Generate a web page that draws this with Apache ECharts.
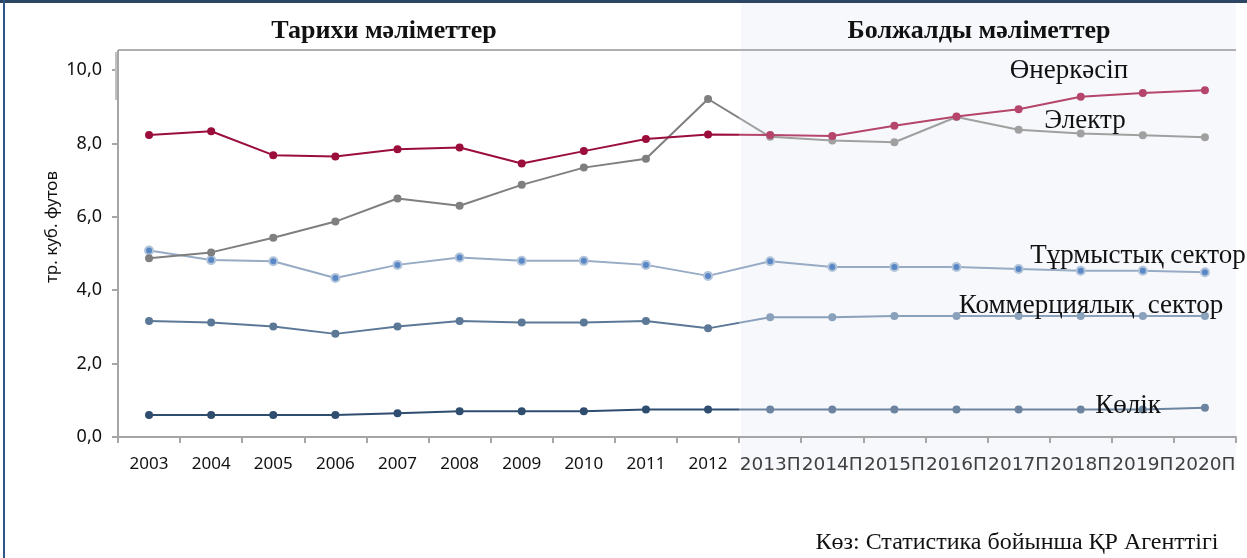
<!DOCTYPE html>
<html>
<head>
<meta charset="utf-8">
<script src="https://cdn.jsdelivr.net/npm/echarts@6/dist/echarts.min.js"></script>
<style>
html,body{margin:0;padding:0;background:#fff;}
#chart{width:1247px;height:558px;}
</style>
</head>
<body>
<div id="chart"></div>
<script>
var categories = ['2003','2004','2005','2006','2007','2008','2009','2010','2011','2012','2013П','2014П','2015П','2016П','2017П','2018П','2019П','2020П'];
var industry    = [8.23, 8.33, 7.68, 7.64, 7.84, 7.89, 7.45, 7.79, 8.12, 8.24, 8.23, 8.20, 8.48, 8.73, 8.93, 9.27, 9.37, 9.45];
var electricity = [4.87, 5.03, 5.43, 5.87, 6.50, 6.30, 6.87, 7.34, 7.58, 9.21, 8.18, 8.08, 8.03, 8.72, 8.37, 8.27, 8.22, 8.17];
var residential = [5.08, 4.82, 4.79, 4.33, 4.69, 4.89, 4.80, 4.80, 4.69, 4.39, 4.79, 4.63, 4.63, 4.63, 4.58, 4.53, 4.53, 4.49];
var commercial  = [3.16, 3.12, 3.01, 2.81, 3.01, 3.16, 3.12, 3.12, 3.16, 2.96, 3.26, 3.26, 3.30, 3.30, 3.30, 3.30, 3.30, 3.30];
var transport   = [0.60, 0.60, 0.60, 0.60, 0.65, 0.70, 0.70, 0.70, 0.75, 0.75, 0.75, 0.75, 0.75, 0.75, 0.75, 0.75, 0.75, 0.80];
var yTicks = [0, 2, 4, 6, 8, 10];
var headerHist = 'Тарихи мәліметтер';
var headerFore = 'Болжалды мәліметтер';
var seriesNames = ['Өнеркәсіп', 'Электр', 'Тұрмыстық сектор', 'Коммерциялық  сектор', 'Көлік'];
var axisName = 'тр. куб. футов';
var sourceText = 'Көз: Статистика бойынша ҚР Агенттігі';

var histColors = ['#9b0d3a', '#7f7f7f', '#97abc4', '#5b7896', '#2f4d6f'];
var foreColors = ['#b5456b', '#a0a0a0', '#a6b8ce', '#8aa1bb', '#6c84a0'];
var allData = [industry, electricity, residential, commercial, transport];
var histCount = 10;

var chart = echarts.init(document.getElementById('chart'));

var split = (histCount - 0.5) / (categories.length - 1);

var series = allData.map(function (d, i) {
  var grad = new echarts.graphic.LinearGradient(0, 0, 1, 0, [
    { offset: 0, color: histColors[i] },
    { offset: split, color: histColors[i] },
    { offset: split, color: foreColors[i] },
    { offset: 1, color: foreColors[i] }
  ]);
  var s = {
    name: seriesNames[i],
    type: 'line',
    data: d,
    symbol: 'circle',
    symbolSize: 8,
    showAllSymbol: true,
    lineStyle: { width: 2, color: grad },
    itemStyle: {
      color: function (p) { return p.dataIndex < histCount ? histColors[i] : foreColors[i]; }
    },
    z: 7 - i
  };
  if (i === 2) {
    s.itemStyle = { color: '#5a87c5', borderColor: '#b2c4da', borderWidth: 2 };
    s.lineStyle = { width: 2, color: '#97abc4' };
  }
  return s;
});

var serif = '"Liberation Serif", "Times New Roman", serif';
var sans = '"Noto Sans", "Open Sans", sans-serif';

chart.setOption({
  animation: false,
  backgroundColor: '#ffffff',
  grid: { left: 118, right: 11, top: 70, bottom: 121, containLabel: false },
  xAxis: {
    type: 'category',
    data: categories,
    boundaryGap: true,
    axisLine: { lineStyle: { color: '#a6a6a6', width: 2 } },
    axisTick: { show: true, interval: 0, length: 6, lineStyle: { color: '#a6a6a6', width: 2 } },
    axisLabel: {
      interval: 0,
      margin: 19,
      formatter: function (v) {
        return v.indexOf('П') >= 0 ? '{f|' + v + '}' : '{h|' + v + '}';
      },
      rich: {
        h: { fontFamily: sans, fontSize: 17, color: '#111111' },
        f: { fontFamily: '"DejaVu Sans", sans-serif', fontSize: 18.5, color: '#404040' }
      }
    },
    splitLine: { show: false }
  },
  yAxis: {
    type: 'value',
    min: yTicks[0],
    max: yTicks[yTicks.length - 1],
    interval: 2,
    axisLine: { show: true, lineStyle: { color: '#a6a6a6', width: 2 } },
    axisTick: { show: true, length: 6, lineStyle: { color: '#a6a6a6', width: 2 } },
    axisLabel: {
      margin: 16,
      fontFamily: sans,
      fontSize: 18,
      color: '#111111',
      formatter: function (v) { return v.toFixed(1).replace('.', ','); }
    },
    splitLine: { show: false }
  },
  series: series,
  graphic: [
    { type: 'rect', z: -10, silent: true, shape: { x: 741, y: 3, width: 495, height: 467 }, style: { fill: '#f7f8fb' } },
    { type: 'rect', z: 10, silent: true, shape: { x: 0, y: 0, width: 1247, height: 3 }, style: { fill: '#2b4563' } },
    { type: 'rect', z: 10, silent: true, shape: { x: 3, y: 0, width: 2, height: 558 }, style: { fill: '#2f5585' } },
    { type: 'line', z: 10, silent: true, shape: { x1: 118, y1: 50, x2: 1236, y2: 50 }, style: { stroke: '#b0b0b0', lineWidth: 2 } },
    { type: 'line', z: 10, silent: true, shape: { x1: 118, y1: 50, x2: 118, y2: 71 }, style: { stroke: '#a6a6a6', lineWidth: 2 } },
    { type: 'rect', z: 10, silent: true, shape: { x: 115, y: 52, width: 2, height: 48 }, style: { fill: '#c0c0c0' } },
    { type: 'text', z: 10, style: { x: 384, y: 31, text: headerHist, textAlign: 'center', textVerticalAlign: 'middle', font: 'bold 26px ' + serif, fill: '#111111' } },
    { type: 'text', z: 10, style: { x: 979, y: 31, text: headerFore, textAlign: 'center', textVerticalAlign: 'middle', font: 'bold 26px ' + serif, fill: '#111111' } },
    { type: 'text', z: 10, style: { x: 1069, y: 71, text: seriesNames[0], textAlign: 'center', textVerticalAlign: 'middle', font: '27px ' + serif, fill: '#111111' } },
    { type: 'text', z: 10, style: { x: 1085, y: 121, text: seriesNames[1], textAlign: 'center', textVerticalAlign: 'middle', font: '27px ' + serif, fill: '#111111' } },
    { type: 'text', z: 10, style: { x: 1138, y: 256, text: seriesNames[2], textAlign: 'center', textVerticalAlign: 'middle', font: '27px ' + serif, fill: '#111111' } },
    { type: 'text', z: 10, style: { x: 1091, y: 306, text: seriesNames[3], textAlign: 'center', textVerticalAlign: 'middle', font: '27px ' + serif, fill: '#111111' } },
    { type: 'text', z: 10, style: { x: 1128, y: 406, text: seriesNames[4], textAlign: 'center', textVerticalAlign: 'middle', font: '27px ' + serif, fill: '#111111' } },
    { type: 'text', z: 10, style: { x: 1017, y: 543, text: sourceText, textAlign: 'center', textVerticalAlign: 'middle', font: '24px ' + serif, fill: '#111111' } },
    { type: 'text', z: 10, x: 52, y: 227, rotation: Math.PI / 2, style: { x: 0, y: 0, text: axisName, textAlign: 'center', textVerticalAlign: 'middle', font: '17px ' + sans, fill: '#111111' } }
  ]
});
</script>
</body>
</html>
